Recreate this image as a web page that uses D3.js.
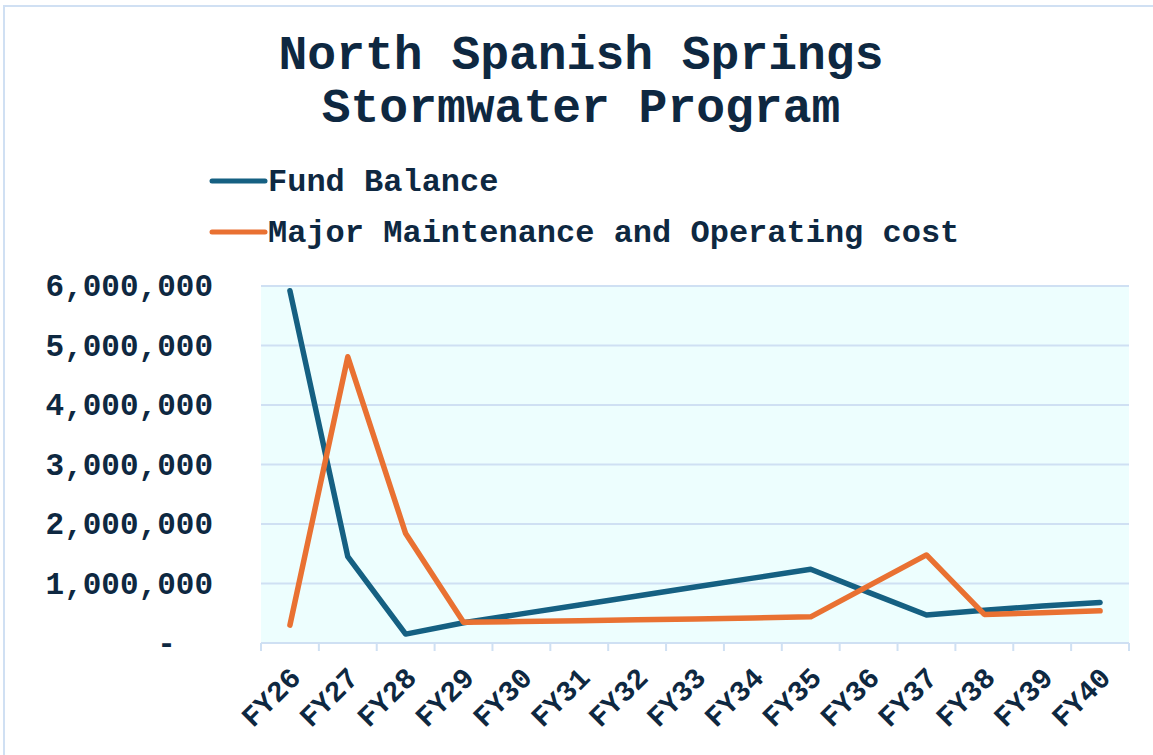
<!DOCTYPE html>
<html>
<head>
<meta charset="utf-8">
<script src="https://cdn.jsdelivr.net/npm/d3@7"></script>
<style>
  html, body { margin: 0; padding: 0; background: #fff; }
  svg { display: block; }
  text { font-family: "Courier New", "Liberation Mono", monospace; font-weight: bold; fill: #0e2841; }
</style>
</head>
<body>
<svg id="chart" width="1153" height="755"></svg>
<script>
// --- Chart data ---
var years = ['FY26', 'FY27', 'FY28', 'FY29', 'FY30', 'FY31', 'FY32', 'FY33',
             'FY34', 'FY35', 'FY36', 'FY37', 'FY38', 'FY39', 'FY40'];

var fundBalance = [5920000, 1450000, 150000, 340000, 490000, 640000, 790000, 940000,
                   1090000, 1240000, 850000, 470000, 550000, 620000, 680000];

var maintenanceCost = [300000, 4810000, 1840000, 350000, 360000, 375000, 390000, 405000,
                       420000, 440000, 960000, 1480000, 480000, 510000, 540000];

var yTicks = [0, 1000000, 2000000, 3000000, 4000000, 5000000, 6000000];

var seriesNames  = ['Fund Balance', 'Major Maintenance and Operating cost'];
var seriesColors = ['#156082', '#e97132'];

var titleLines = ['North Spanish Springs', 'Stormwater Program'];

// --- Layout ---
var svg = d3.select('#chart');
var plot = { left: 261, right: 1129, top: 286, bottom: 643 };

// outer chart border
svg.append('rect')
  .attr('x', 4).attr('y', 6)
  .attr('width', 1160).attr('height', 760)
  .attr('fill', 'none')
  .attr('stroke', '#d0e0f3')
  .attr('stroke-width', 2);

// title
svg.append('g').selectAll('text')
  .data(titleLines)
  .enter().append('text')
  .attr('x', 581)
  .attr('y', function(d, i) { return 69 + i * 53; })
  .attr('text-anchor', 'middle')
  .attr('font-size', 48)
  .text(function(d) { return d; });

// legend
var legend = svg.append('g').selectAll('g')
  .data(seriesNames)
  .enter().append('g')
  .attr('transform', function(d, i) { return 'translate(212,' + (181 + i * 51) + ')'; });

legend.append('line')
  .attr('x1', 0).attr('x2', 53)
  .attr('stroke', function(d, i) { return seriesColors[i]; })
  .attr('stroke-width', 5)
  .attr('stroke-linecap', 'round');

legend.append('text')
  .attr('x', 56)
  .attr('dy', '0.32em')
  .attr('font-size', 32)
  .text(function(d) { return d; });

// --- Scales ---
var x = d3.scaleBand().domain(years).range([plot.left, plot.right]);
var y = d3.scaleLinear().domain([0, 6000000]).range([plot.bottom, plot.top]);

// plot background
svg.append('rect')
  .attr('x', plot.left).attr('y', plot.top)
  .attr('width', plot.right - plot.left)
  .attr('height', plot.bottom - plot.top)
  .attr('fill', '#edfefe');

// gridlines
svg.append('g').selectAll('line')
  .data(yTicks.filter(function(v) { return v > 0; }))
  .enter().append('line')
  .attr('x1', plot.left).attr('x2', plot.right)
  .attr('y1', function(d) { return y(d); })
  .attr('y2', function(d) { return y(d); })
  .attr('stroke', '#cfe0f3')
  .attr('stroke-width', 2);

// y axis labels (no axis line)
var fmt = d3.format(',');
var yAxis = svg.append('g')
  .attr('transform', 'translate(' + plot.left + ',0)')
  .call(d3.axisLeft(y)
    .tickValues(yTicks)
    .tickSize(0)
    .tickPadding(48)
    .tickFormat(function(d) { return d === 0 ? '-  ' : fmt(d); }));
yAxis.select('.domain').remove();
yAxis.selectAll('text')
  .attr('font-size', 31)
  .attr('fill', '#0e2841')
  .style('white-space', 'pre')
  .attr('font-family', '"Courier New", "Liberation Mono", monospace');

// x axis: line + ticks between categories
var xAxisG = svg.append('g')
  .attr('transform', 'translate(0,' + plot.bottom + ')');

xAxisG.append('line')
  .attr('x1', plot.left).attr('x2', plot.right)
  .attr('stroke', '#cfe0f3').attr('stroke-width', 2);

var boundaries = years.map(function(d) { return x(d); }).concat([plot.right]);
xAxisG.selectAll('.tick-mark')
  .data(boundaries)
  .enter().append('line')
  .attr('class', 'tick-mark')
  .attr('x1', function(d) { return d; })
  .attr('x2', function(d) { return d; })
  .attr('y1', 0).attr('y2', 8)
  .attr('stroke', '#cfe0f3').attr('stroke-width', 2);

xAxisG.selectAll('.xlabel')
  .data(years)
  .enter().append('text')
  .attr('class', 'xlabel')
  .attr('font-size', 29)
  .attr('text-anchor', 'end')
  .attr('transform', function(d) {
    return 'translate(' + (x(d) + x.bandwidth() / 2 - 2) + ',22) rotate(-45)';
  })
  .attr('dy', '0.7em')
  .text(function(d) { return d; });

// --- Lines ---
var lineGen = d3.line()
  .x(function(d, i) { return x(years[i]) + x.bandwidth() / 2; })
  .y(function(d) { return y(d); });

svg.append('g').selectAll('path')
  .data([fundBalance, maintenanceCost])
  .enter().append('path')
  .attr('d', lineGen)
  .attr('fill', 'none')
  .attr('stroke', function(d, i) { return seriesColors[i]; })
  .attr('stroke-width', 5.5)
  .attr('stroke-linejoin', 'round')
  .attr('stroke-linecap', 'round');
</script>
</body>
</html>
